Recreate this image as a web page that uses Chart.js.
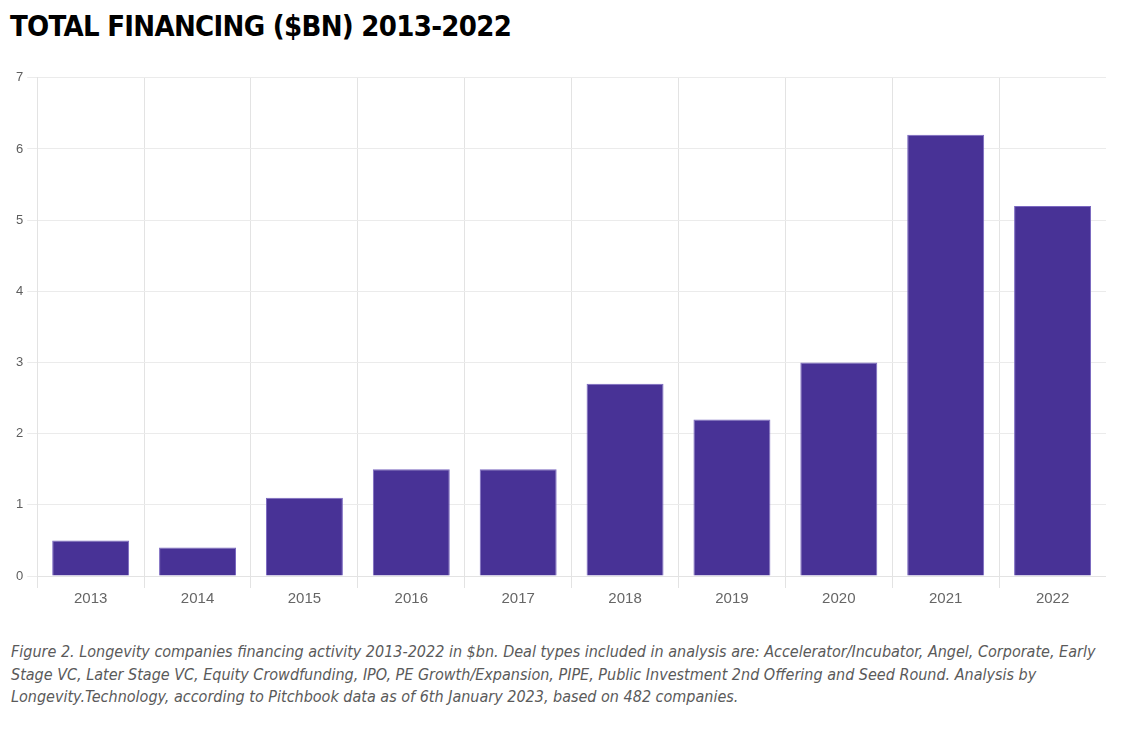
<!DOCTYPE html>
<html>
<head>
<meta charset="utf-8">
<script src="https://cdn.jsdelivr.net/npm/chart.js@4"></script>
<style>
  body { margin: 0; background: #fff; width: 1142px; height: 732px; position: relative; overflow: hidden; }
  h1 {
    position: absolute; left: 10px; top: 9px; margin: 0;
    font-family: "DejaVu Sans Condensed", "DejaVu Sans", sans-serif;
    font-weight: bold; font-size: 29px; color: #000; letter-spacing: -0.7px;
  }
  #wrap { position: absolute; left: 0; top: 66px; width: 1106px; height: 544px; }
  #caption {
    position: absolute; left: 11px; top: 641px; width: 1120px; margin: 0;
    font-family: "DejaVu Sans Condensed", sans-serif;
    font-style: italic; font-size: 16px; line-height: 22.5px; color: #5a5a5a;
    white-space: nowrap;
  }
</style>
</head>
<body>
<h1>TOTAL FINANCING ($BN) 2013-2022</h1>
<div id="wrap"><canvas id="myChart"></canvas></div>
<p id="caption">Figure 2. Longevity companies financing activity 2013-2022 in $bn. Deal types included in analysis are: Accelerator/Incubator, Angel, Corporate, Early<br>Stage VC, Later Stage VC, Equity Crowdfunding, IPO, PE Growth/Expansion, PIPE, Public Investment 2nd Offering and Seed Round. Analysis by<br>Longevity.Technology, according to Pitchbook data as of 6th January 2023, based on 482 companies.</p>
<script>
let years = ['2013', '2014', '2015', '2016', '2017', '2018', '2019', '2020', '2021', '2022'];
let financing = [0.5, 0.4, 1.1, 1.5, 1.5, 2.7, 2.2, 3.0, 6.2, 5.2];
let yTicks = [0, 1, 2, 3, 4, 5, 6, 7];

let ctx = document.getElementById('myChart').getContext('2d');
let myChart = new Chart(ctx, {
    type: 'bar',
    data: {
        labels: years,
        datasets: [{
            label: 'Total financing ($bn)',
            data: financing,
            backgroundColor: '#483296',
            borderColor: '#7a68c0',
            borderWidth: 1,
            barPercentage: 0.8,
            categoryPercentage: 0.9
        }]
    },
    options: {
        responsive: true,
        maintainAspectRatio: false,
        animation: false,
        layout: { padding: { left: 12 } },
        plugins: {
            legend: { display: false },
            tooltip: { enabled: false }
        },
        scales: {
            x: {
                grid: { color: '#e3e3e3', tickLength: 12 },
                border: { color: '#e3e3e3' },
                ticks: { color: '#666', font: { family: 'Liberation Sans', size: 15 }, padding: 2 }
            },
            y: {
                min: yTicks[0],
                max: yTicks[yTicks.length - 1],
                afterBuildTicks: function(axis) {
                    axis.ticks = yTicks.map(function(v) { return { value: v }; });
                },
                grid: { color: '#ebebeb', tickLength: 10 },
                border: { color: '#e3e3e3' },
                ticks: { color: '#5e5e5e', font: { family: 'Liberation Sans', size: 13 }, padding: 4 }
            }
        }
    }
});
</script>
</body>
</html>
